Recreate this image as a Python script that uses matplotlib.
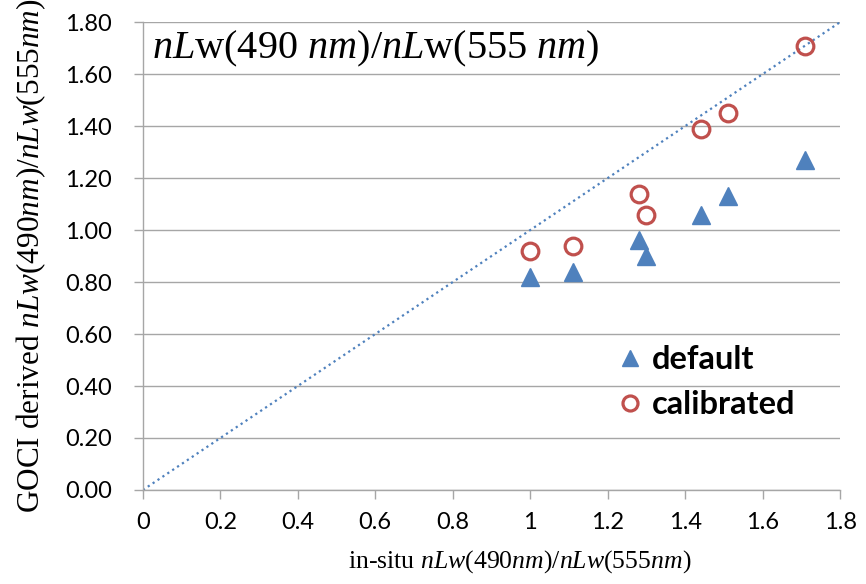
import numpy as np
import matplotlib.pyplot as plt

C_BLUE = '#4F81BD'
C_RED  = '#C0504D'
C_GRID = '#A6A6A6'

plt.rcParams['mathtext.fontset'] = 'custom'
plt.rcParams['mathtext.rm'] = 'Liberation Serif'
plt.rcParams['mathtext.it'] = 'Liberation Serif:italic'

# in-situ ratio (x) and GOCI derived ratio (y)
insitu     = [1.00, 1.11, 1.28, 1.30, 1.44, 1.51, 1.71]
default    = [0.82, 0.84, 0.96, 0.90, 1.06, 1.13, 1.27]
calibrated = [0.92, 0.94, 1.14, 1.06, 1.39, 1.45, 1.71]
line_xy    = [0.0, 1.8]

xticks = [0, 0.2, 0.4, 0.6, 0.8, 1, 1.2, 1.4, 1.6, 1.8]
yticks = [0.0, 0.2, 0.4, 0.6, 0.8, 1.0, 1.2, 1.4, 1.6, 1.8]

fig = plt.figure(figsize=(8.66, 5.84), dpi=100, facecolor='white')
ax = fig.add_axes([0.165, 0.161, 0.805, 0.801])

# 1:1 dotted line
ax.plot(line_xy, line_xy, linestyle=':', color=C_BLUE, linewidth=1.6, zorder=2)

ax.plot(insitu, default, linestyle='none', marker='^', ms=13,
        color=C_BLUE, label='default', zorder=3)
ax.plot(insitu, calibrated, linestyle='none', marker='o', ms=12,
        mfc='none', mec=C_RED, mew=2.3, label='calibrated', zorder=3)

ax.set_xlim(0, 1.8)
ax.set_ylim(0, 1.8)
ax.set_xticks(xticks)
ax.set_xticklabels([f'{t:g}' for t in xticks])
ax.set_yticks(yticks)
ax.set_yticklabels([f'{t:.2f}' for t in yticks])

ax.grid(axis='y', color=C_GRID, linewidth=1)
ax.set_axisbelow(True)
for s in ['top', 'right']:
    ax.spines[s].set_visible(False)
for s in ['left', 'bottom']:
    ax.spines[s].set_color(C_GRID)
    ax.spines[s].set_linewidth(1)
ax.tick_params(colors=C_GRID, length=6.5, width=1, labelcolor='black',
               labelsize=17)
for lab in ax.get_xticklabels() + ax.get_yticklabels():
    lab.set_family('Lato')
ax.tick_params(axis='x', pad=9)
ax.tick_params(axis='y', pad=16)

ax.set_xlabel('in-situ $nLw$(490$nm$)/$nLw$(555$nm$)',
              family='Liberation Serif', fontsize=18.5)
ax.xaxis.set_label_coords(0.541, -0.125)
ax.set_ylabel('GOCI derived $nLw$(490$nm$)/$nLw$(555$nm$)',
              family='Liberation Serif', fontsize=22.5, labelpad=12)

ax.text(0.013, 0.985, '$nL$w(490 $nm$)/$nL$w(555 $nm$)',
        transform=ax.transAxes, family='Liberation Serif', fontsize=29,
        ha='left', va='top')

leg = ax.legend(loc='upper left', bbox_to_anchor=(0.681, 0.31),
                borderaxespad=0, borderpad=0,
                frameon=False, prop={'family': 'Lato', 'weight': 'bold',
                                     'size': 23.5},
                handletextpad=0.3, labelspacing=0.5, markerscale=0.9,
                handlelength=0.75)

plt.savefig('out.png', dpi=100)
